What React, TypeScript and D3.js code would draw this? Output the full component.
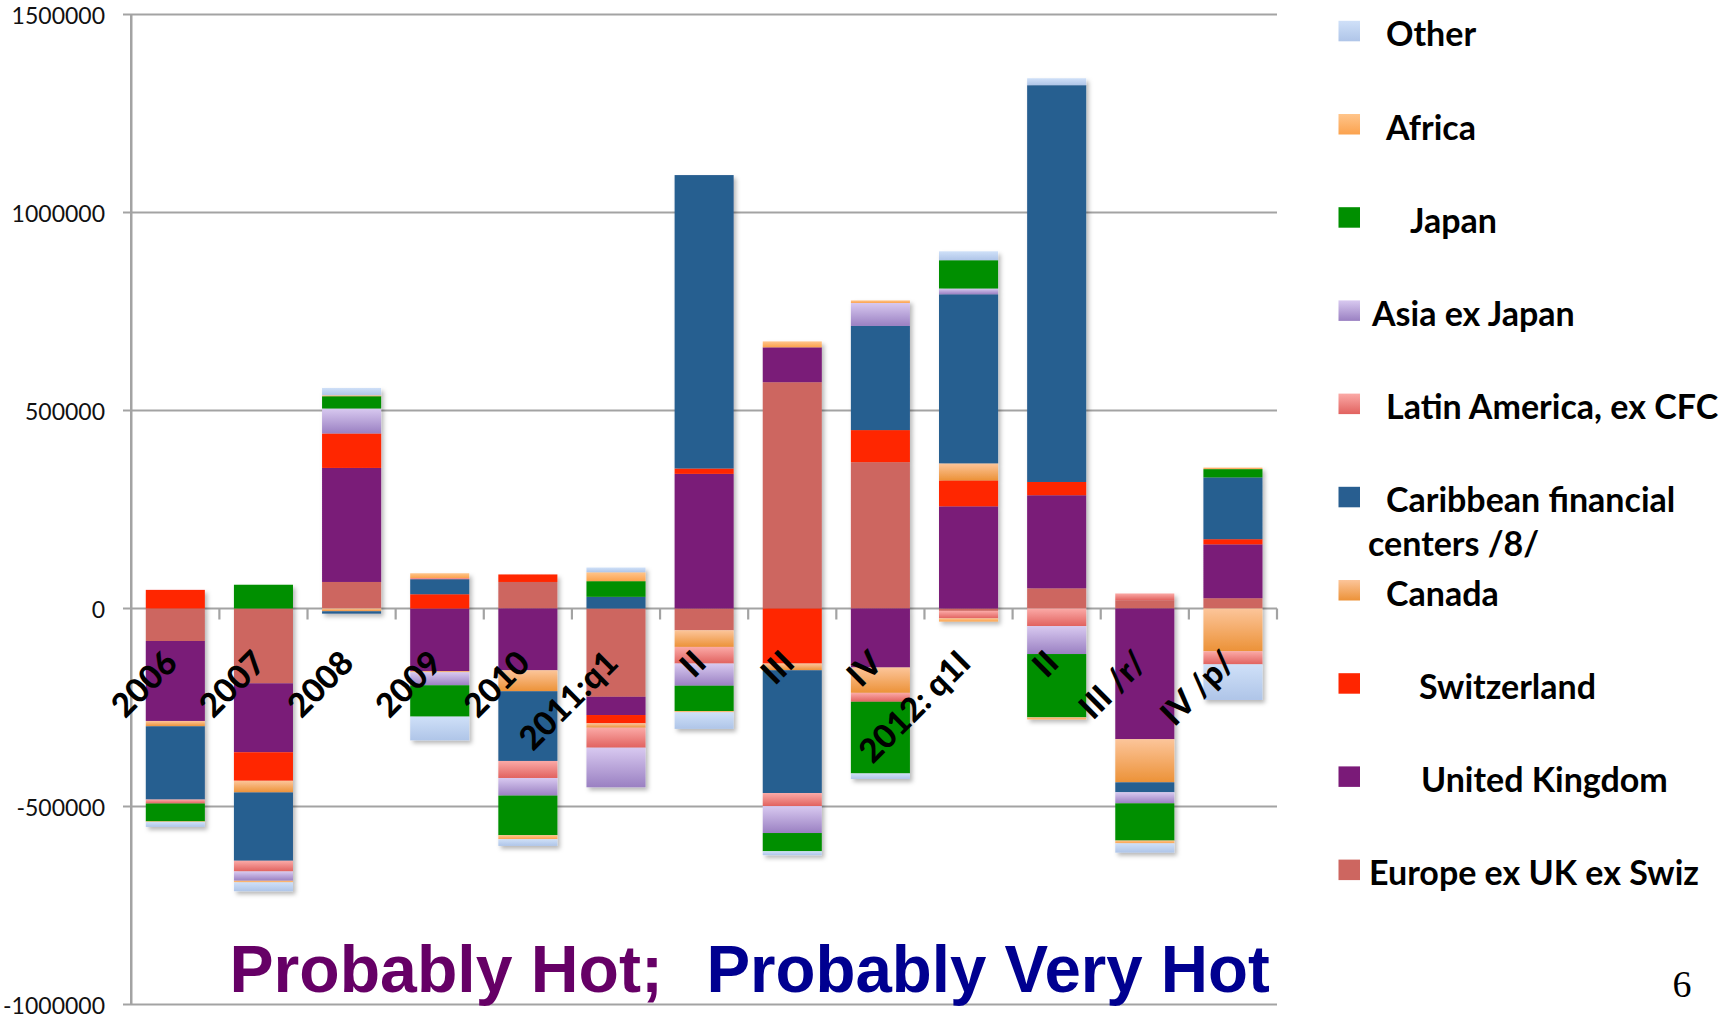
import React from "react";
import * as d3 from "d3";

// Period labels along the category axis
const periods = ["2006", "2007", "2008", "2009", "2010", "2011:q1", "II", "III", "IV", "2012: q1I", "II", "III /r/", "IV /p/"];

// Net flows by counterparty region (millions of dollars), one array per series
const europeExUkExSwiz = [-82000, -189000, 67000, 0, 67000, -223000, -55000, 571500, 369500, -6000, 51000, 21000, 26000];
const unitedKingdom = [-202000, -174000, 288000, -158000, -156000, -46000, 340000, 88000, -149000, 258000, 235000, -330000, 136000];
const switzerland = [47000, -72000, 87000, 36000, 19000, -21000, 13500, -139000, 81000, 65500, 33500, 0, 13000];
const canada = [-13500, -29500, -7000, -3000, -53000, -11000, -42000, -17000, -64000, 43000, 0, -109000, -108000];
const caribbeanCenters = [-185000, -172500, -6000, 38000, -176000, 29500, 741000, -310000, 263000, 427000, 1002000, -25000, 156000];
const latinAmerica = [-10000, -27000, 0, 3000, -43000, -50500, -42000, -33000, -22500, -19000, -44500, 17000, -33000];
const asiaExJapan = [0, -23500, 63000, -33000, -44500, -100000, -56000, -68000, 58000, 14500, -70500, -28000, 0];
const japan = [-45000, 60000, 31000, -79000, -100000, 39500, -64000, -46000, -181000, 71500, -160000, -94000, 21000];
const africa = [-1500, -4000, 2500, 12000, -10000, 22500, -3000, 15000, 6500, -8000, -5000, -7000, 4000];
const other = [-12500, -22500, 18500, -60000, -17000, 12000, -42000, -10000, -14000, 22500, 17500, -23500, -90000];

// Y axis tick values
const yTicks = [-1000000, -500000, 0, 500000, 1000000, 1500000];

// Series in stacking order (first series sits next to the zero line)
const seriesKeys = ["europe", "uk", "swiss", "canada", "carib", "latam", "asia", "japan", "africa", "other"];
const seriesValues: Record<string, number[]> = {
  europe: europeExUkExSwiz,
  uk: unitedKingdom,
  swiss: switzerland,
  canada: canada,
  carib: caribbeanCenters,
  latam: latinAmerica,
  asia: asiaExJapan,
  japan: japan,
  africa: africa,
  other: other,
};

// Legend entries, top to bottom
const legendKeys = ["other", "africa", "japan", "asia", "latam", "carib", "canada", "swiss", "uk", "europe"];
const legendLabels: Record<string, string[]> = {
  other: ["Other"],
  africa: ["Africa"],
  japan: ["Japan"],
  asia: ["Asia ex Japan"],
  latam: ["Latin America, ex CFC"],
  carib: ["Caribbean financial", "centers /8/"],
  canada: ["Canada"],
  swiss: ["Switzerland"],
  uk: ["United Kingdom"],
  europe: ["Europe ex UK ex Swiz"],
};

// Fill styles: [top colour, bottom colour]
const fills: Record<string, [string, string]> = {
  europe: ["#cd6660", "#cd6660"],
  uk: ["#7a1a78", "#7a1a78"],
  swiss: ["#ff2500", "#ff2500"],
  canada: ["#fcc59a", "#ec9238"],
  carib: ["#285e90", "#285e90"],
  latam: ["#fbaaa7", "#e1625f"],
  asia: ["#d8c9f0", "#9a80c2"],
  japan: ["#008f00", "#008f00"],
  africa: ["#ffc58b", "#fba24e"],
  other: ["#cfe0f8", "#afc5e8"],
};

// Horizontal indents of legend labels
const legendTextX: Record<string, number[]> = {
  other: [1386],
  africa: [1386],
  japan: [1410],
  asia: [1372],
  latam: [1386],
  carib: [1386, 1368],
  canada: [1386],
  swiss: [1419],
  uk: [1421],
  europe: [1369],
};

const W = 1735;
const H = 1018;
const plotLeft = 131.25;
const plotRight = 1277;
const plotTop = 14.5;
const plotBottom = 1004.5;

const uiFont = "Lato, 'Liberation Sans', sans-serif";

export default function App() {
  const rows = periods.map((_, i) => {
    const r: Record<string, number> = { index: i };
    seriesKeys.forEach((k) => (r[k] = seriesValues[k][i]));
    return r;
  });

  const stacked = d3
    .stack<Record<string, number>>()
    .keys(seriesKeys)
    .offset(d3.stackOffsetDiverging)(rows);

  const x = d3
    .scaleBand<number>()
    .domain(d3.range(periods.length))
    .range([plotLeft, plotRight])
    .paddingInner(0.33)
    .paddingOuter(0.165);

  const y = d3.scaleLinear().domain([-1000000, 1500000]).range([plotBottom, plotTop]);
  const y0 = y(0);
  const step = x.step();
  const gridColor = "#a3a3a3";

  return (
    <svg
      width={W}
      height={H}
      viewBox={`0 0 ${W} ${H}`}
      style={{ position: "absolute", left: 0, top: 0, background: "#fff" }}
    >
      <defs>
        {seriesKeys.map((k) => (
          <linearGradient key={k} id={`grad-${k}`} x1="0" y1="0" x2="0" y2="1">
            <stop offset="0%" stopColor={fills[k][0]} />
            <stop offset="100%" stopColor={fills[k][1]} />
          </linearGradient>
        ))}
        <filter id="barShadow" x="-20%" y="-20%" width="140%" height="140%">
          <feDropShadow dx="2.5" dy="3" stdDeviation="2.2" floodColor="#000" floodOpacity="0.28" />
        </filter>
      </defs>

      <rect x={0} y={0} width={W} height={H} fill="#fff" />

      {/* gridlines and value labels */}
      {yTicks.map((t) => (
        <g key={t}>
          <line x1={123} x2={plotRight} y1={y(t)} y2={y(t)} stroke={gridColor} strokeWidth={2.2} />
          <text
            x={105}
            y={y(t) + 9}
            textAnchor="end"
            fontFamily={uiFont}
            fontSize={23}
            fill="#111"
          >
            {String(t)}
          </text>
        </g>
      ))}

      {/* value axis */}
      <line x1={plotLeft} x2={plotLeft} y1={plotTop} y2={plotBottom} stroke={gridColor} strokeWidth={2.5} />

      {/* category tick marks on the zero line */}
      {d3.range(1, periods.length + 1).map((k) => (
        <line
          key={k}
          x1={plotLeft + k * step}
          x2={plotLeft + k * step}
          y1={y0}
          y2={y0 + 11}
          stroke={gridColor}
          strokeWidth={2.2}
        />
      ))}

      {/* stacked bars */}
      {periods.map((_, i) => (
        <g key={i} filter="url(#barShadow)">
          {stacked.map((s) => {
            const d = s[i];
            const top = y(Math.max(d[0], d[1]));
            const bot = y(Math.min(d[0], d[1]));
            if (bot - top <= 0) return null;
            return (
              <rect
                key={s.key}
                x={x(i)}
                y={top}
                width={x.bandwidth()}
                height={bot - top}
                fill={`url(#grad-${s.key})`}
              />
            );
          })}
        </g>
      ))}

      {/* period labels */}
      {periods.map((p, i) => {
        const cx = (x(i) as number) + x.bandwidth() / 2;
        return (
          <text
            key={i}
            transform={`translate(${cx + 4},${665}) rotate(-45)`}
            textAnchor="end"
            fontFamily={uiFont}
            fontWeight={900}
            fontSize={33}
            fill="#000"
          >
            {p}
          </text>
        );
      })}

      {/* headline */}
      <text
        x={229.5}
        y={991.5}
        fontFamily="'Liberation Sans', Arial, sans-serif"
        fontWeight={700}
        fontSize={66}
        fill="#660066"
        textLength={433.5}
        lengthAdjust="spacingAndGlyphs"
      >
        Probably Hot;
      </text>
      <text
        x={706.5}
        y={991.5}
        fontFamily="'Liberation Sans', Arial, sans-serif"
        fontWeight={700}
        fontSize={66}
        fill="#000090"
        textLength={563.3}
        lengthAdjust="spacingAndGlyphs"
      >
        Probably Very Hot
      </text>

      {/* legend */}
      {legendKeys.map((k, i) => {
        const top = 20.8 + i * 93.2;
        const base = top + 25.5;
        return (
          <g key={k}>
            <rect x={1338.5} y={top} width={21.5} height={20.5} fill={`url(#grad-${k})`} />
            {legendLabels[k].map((line, j) => (
              <text
                key={j}
                x={legendTextX[k][j]}
                y={base + j * 43.5}
                fontFamily={uiFont}
                fontWeight={700}
                fontSize={34}
                fill="#000"
              >
                {line}
              </text>
            ))}
          </g>
        );
      })}

      {/* page number */}
      <text
        x={1682}
        y={997}
        textAnchor="middle"
        fontFamily="'Liberation Serif', 'Times New Roman', serif"
        fontSize={38}
        fill="#000"
      >
        6
      </text>
    </svg>
  );
}
